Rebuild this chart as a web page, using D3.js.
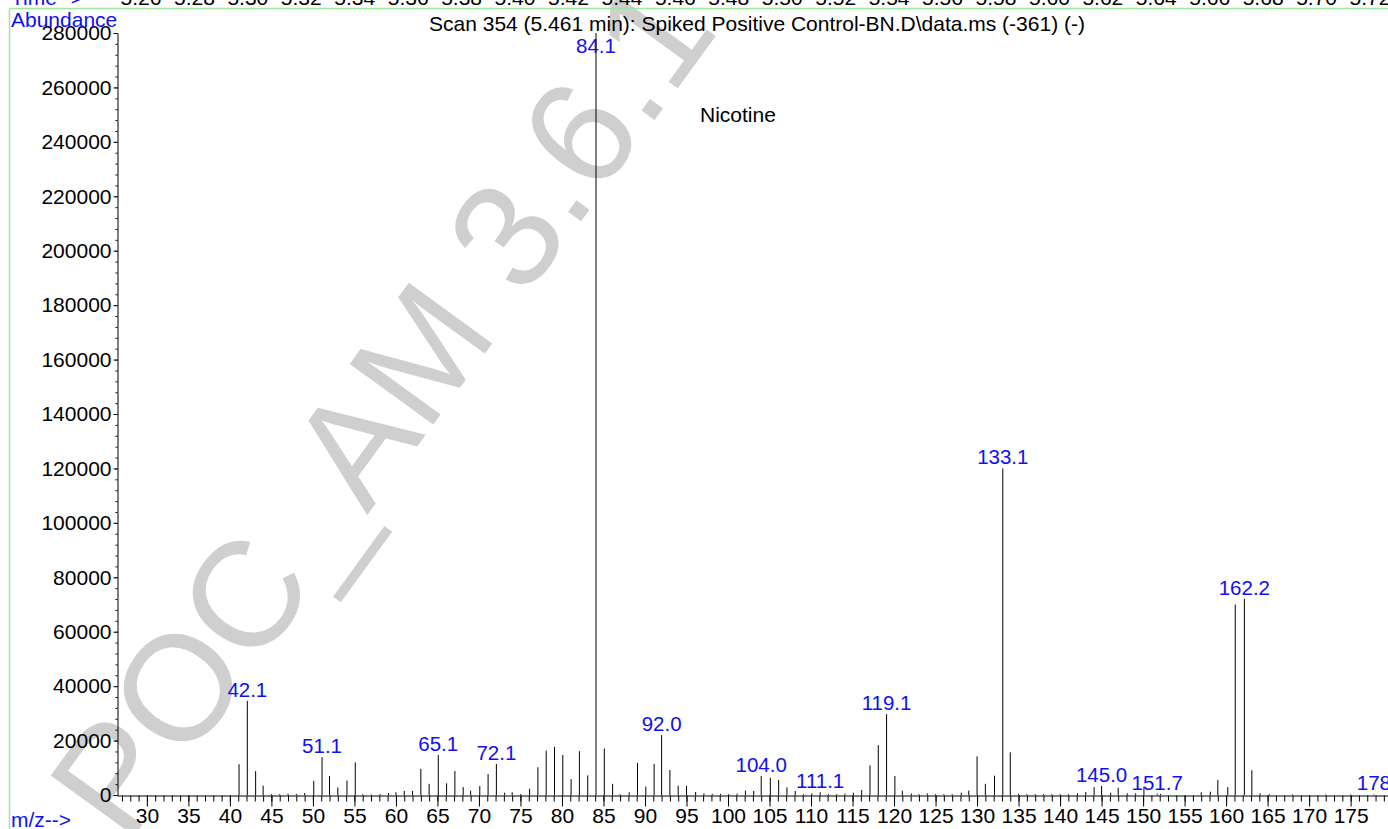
<!DOCTYPE html>
<html><head><meta charset="utf-8">
<script src="https://cdn.jsdelivr.net/npm/d3@7"></script>
<style>body{margin:0;background:#fff;overflow:hidden}svg{display:block;font-family:"Liberation Sans",Arial,Helvetica,sans-serif}</style>
</head><body><svg id="c" width="1388" height="829"></svg>
<script>
// ---- data ----
const mz = [41.1,42.1,43.1,44.0,45.0,46.0,47.0,48.0,49.0,50.1,51.1,52.0,53.0,54.1,55.1,56.0,57.0,58.1,59.1,60.0,
  61.0,62.0,63.0,64.0,65.1,66.1,67.1,68.1,69.0,70.1,71.1,72.1,73.1,74.0,75.0,76.1,77.1,78.1,79.1,80.1,
  81.1,82.1,83.1,84.1,85.1,86.1,87.0,88.1,89.1,90.1,91.1,92.0,93.0,94.0,95.0,96.1,97.1,98.1,99.1,100.1,
  101.1,102.1,103.1,104.0,105.1,106.1,107.1,108.1,109.1,110.1,111.1,112.1,113.1,114.1,115.1,116.1,117.1,118.1,119.1,120.1,
  121.0,122.1,123.0,124.0,125.0,126.0,127.0,128.1,129.0,130.0,131.0,132.1,133.1,134.0,135.0,136.0,137.0,138.0,139.0,140.0,
  141.0,142.1,143.1,144.1,145.0,146.1,147.0,148.1,149.1,150.1,151.7,152.1,157.0,158.1,159.0,160.2,161.1,162.2,163.1,164.1,
  165.2,168.0,172.0,175.0,177.8];
const abundance = [11300,34600,8800,3400,300,300,500,400,700,5200,13900,7000,2800,5300,12000,300,200,300,700,1000,
  1500,1500,9600,4100,14700,4300,8800,2900,1600,3300,7700,11400,850,1000,300,2300,10200,16300,17700,14700,
  5800,16100,7200,280000,17100,4100,300,1000,11800,3100,11400,22000,9200,3400,3300,1100,600,400,400,300,
  500,1600,1500,7000,6300,5500,2800,1500,300,600,1000,300,300,500,850,1800,10900,18300,29700,7000,
  1600,500,300,600,300,300,300,850,1600,14200,4100,7100,120000,15700,400,300,300,300,300,300,
  300,600,1100,2900,3300,850,2700,600,600,3100,500,400,1000,1200,5500,2900,70000,72100,9100,600,
  300,200,200,200,200];
const peakLabels = ["42.1","51.1","65.1","72.1","84.1","92.0","104.0","111.1","119.1","133.1","145.0","151.7","162.2","178"];
const peakLabelMz = [42.1,51.1,65.1,72.1,84.1,92.0,104.0,111.1,119.1,133.1,145.0,151.7,162.2,177.8];
const yTicks = [0,20000,40000,60000,80000,100000,120000,140000,160000,180000,200000,220000,240000,260000,280000];
const xMajorTicks = d3.range(30,180,5);
const xMinorTicks = d3.range(27,180,1);
const timeTicks = ["5.26","5.28","5.30","5.32","5.34","5.36","5.38","5.40","5.42","5.44","5.46","5.48",
  "5.50","5.52","5.54","5.56","5.58","5.60","5.62","5.64","5.66","5.68","5.70","5.72"];
const titleText = "Scan 354 (5.461 min): Spiked Positive Control-BN.D\\data.ms (-361) (-)";
const compoundName = "Nicotine";
const watermarkText = "POC_AM 3.6.1";

// ---- drawing ----
const W = 1388, H = 829;
const svg = d3.select("#c");
const FS = 21;
const blue = "#1010ee";

// watermark
svg.append("text")
  .attr("transform", "translate(127,846) rotate(-54)")
  .attr("font-size", 150)
  .attr("fill", "#cfcfcf")
  .text(watermarkText);

// frame lines (green)
svg.append("line").attr("x1",9.5).attr("x2",W).attr("y1",8.5).attr("y2",8.5).attr("stroke","#9de89d").attr("stroke-width",1.5);
svg.append("line").attr("x1",9.5).attr("x2",9.5).attr("y1",8.5).attr("y2",H).attr("stroke","#9de89d").attr("stroke-width",1.5);

// time strip (clipped above)
const t = d3.scaleLinear().domain([5.26,5.72]).range([141,1370]);
svg.append("g").selectAll("text").data(timeTicks).join("text")
  .attr("x", d => t(+d)).attr("y", 5).attr("text-anchor","middle")
  .attr("font-size",FS).attr("fill","#000").text(d => d);
svg.append("text").attr("x",11).attr("y",5).attr("font-size",FS).attr("fill",blue).text("Time-->");

const x = d3.scaleLinear().domain([26.4,179.5]).range([117,1388]);
const y = d3.scaleLinear().domain([0,280000]).range([795,33]);

// y axis
const yAx = svg.append("g").attr("transform","translate(117.5,0)")
  .call(d3.axisLeft(y).tickValues(yTicks).tickSize(4).tickSizeOuter(0).tickPadding(2).tickFormat(d3.format("d")));
yAx.selectAll("text").attr("font-size",FS).attr("font-family","Liberation Sans, Arial, sans-serif").attr("fill","#000");
svg.append("g").attr("transform","translate(117.5,0)")
  .call(d3.axisLeft(y).tickValues(d3.range(0,280001,4000)).tickSize(2).tickFormat("").tickSizeOuter(0))
  .select(".domain").remove();

// x axis
const xAx = svg.append("g").attr("transform","translate(0,795.5)")
  .call(d3.axisBottom(x).tickValues(xMajorTicks).tickSize(11).tickSizeOuter(0).tickPadding(2).tickFormat(d3.format("d")));
xAx.selectAll("text").attr("font-size",FS).attr("font-family","Liberation Sans, Arial, sans-serif").attr("fill","#000");
svg.append("g").attr("transform","translate(0,795.5)")
  .call(d3.axisBottom(x).tickValues(xMinorTicks).tickSize(6).tickFormat("").tickSizeOuter(0))
  .select(".domain").remove();

// peaks
svg.append("g").selectAll("line").data(mz).join("line")
  .attr("x1", d => x(d)).attr("x2", d => x(d))
  .attr("y1", y(0)).attr("y2", (d,i) => y(abundance[i]))
  .attr("stroke","#000").attr("stroke-width",1);

// peak labels
const valAt = m => abundance[mz.findIndex(v => Math.abs(v - m) < 0.05)];
svg.append("g").selectAll("text").data(peakLabels).join("text")
  .attr("x", (d,i) => x(peakLabelMz[i]))
  .attr("y", (d,i) => Math.max(53, y(valAt(peakLabelMz[i])) - 4))
  .attr("text-anchor","middle").attr("font-size",20.5).attr("fill",blue).text(d => d);

// texts
svg.append("text").attr("x",11).attr("y",27).attr("font-size",FS).attr("fill",blue).text("Abundance");
svg.append("text").attr("x",11).attr("y",827).attr("font-size",FS).attr("fill",blue).text("m/z-->");
svg.append("text").attr("x",757).attr("y",31).attr("text-anchor","middle").attr("font-size",FS).attr("fill","#000").text(titleText);
svg.append("text").attr("x",700).attr("y",122).attr("font-size",FS).attr("fill","#000").text(compoundName);
</script></body></html>
